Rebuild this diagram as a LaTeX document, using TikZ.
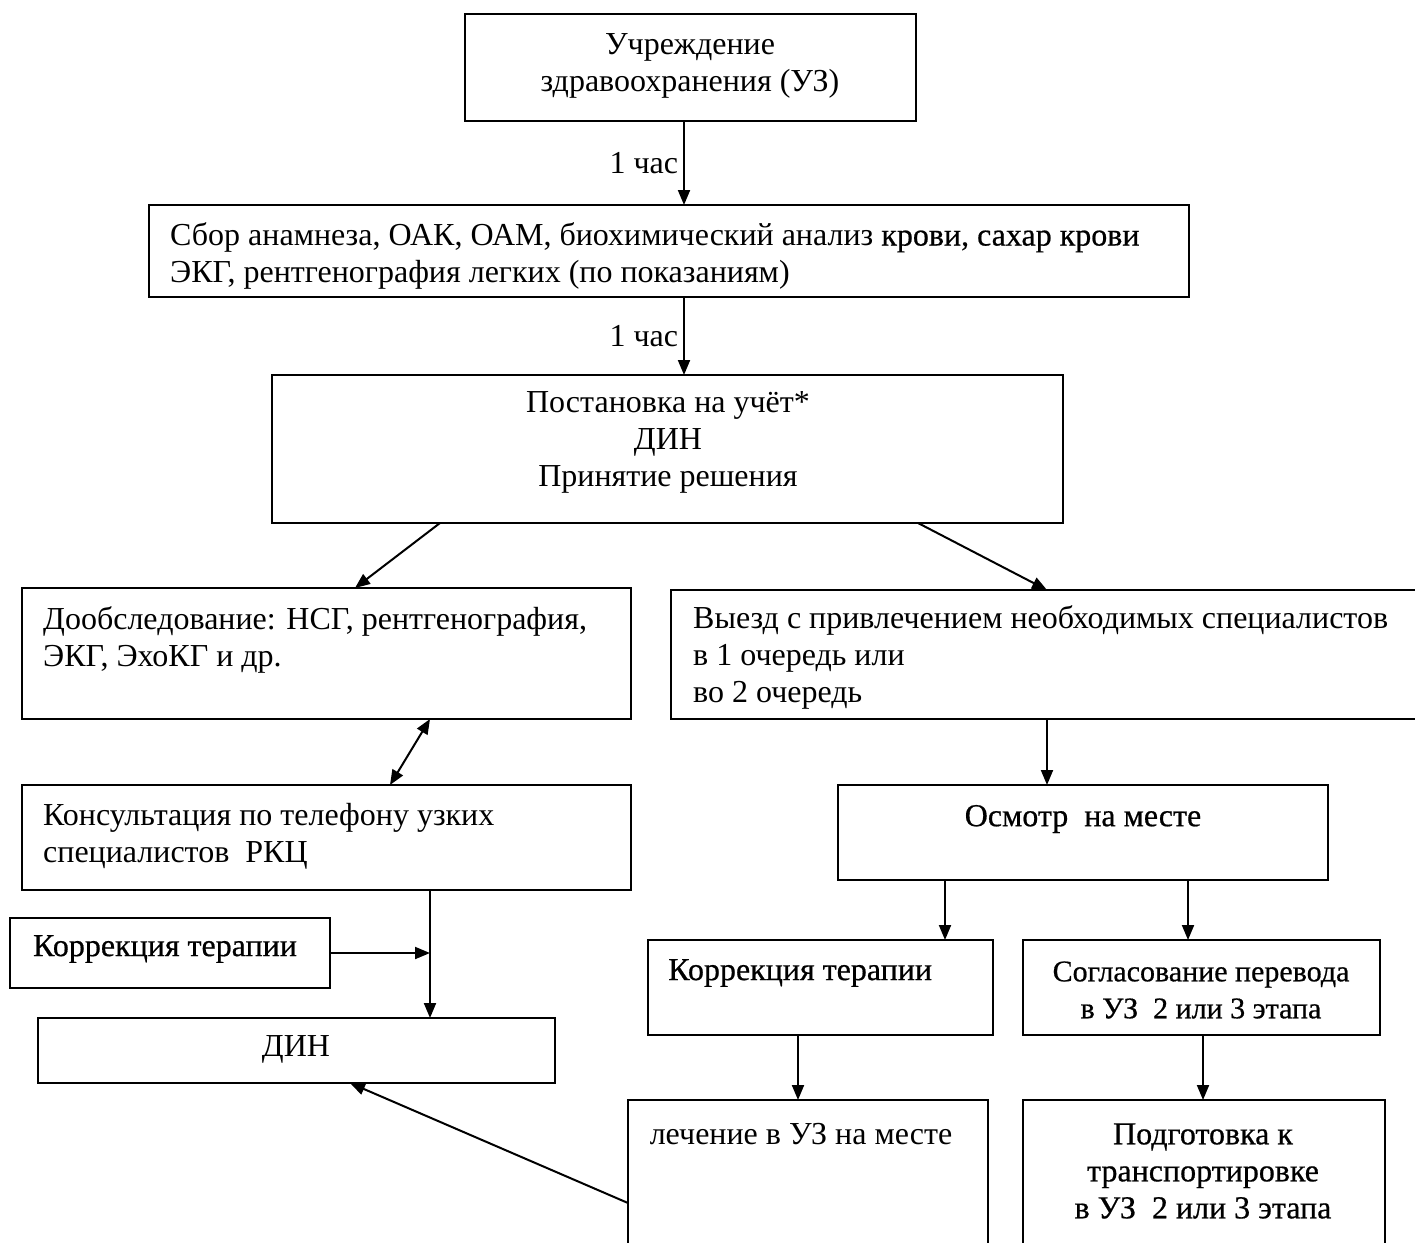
\documentclass[tikz,border=0pt]{standalone}
\usepackage{fontspec}
\setmainfont{Liberation Serif}
\newfontfamily\heavy{Liberation Serif}[FakeBold=0.6]
\usetikzlibrary{arrows.meta,calc}
\newcommand\bx[5]{\node[box,minimum width={(#4-#2)*1pt},minimum height={(#5-#3)*1pt}] (#1) at ({(#2+#4)/2},{(#3+#5)/2}) {};}
\begin{document}
\begin{tikzpicture}[x=1pt,y=-1pt,
 box/.style={draw,line width=2.2pt,inner sep=0pt,outer sep=0pt},
 txt/.style={font=\fontsize{32}{37}\selectfont,inner sep=0pt},
 htxt/.style={font=\fontsize{32}{37}\selectfont\heavy,inner sep=0pt},
 arr/.style={-{Triangle[length=15pt,width=12pt]},line width=2pt},
 darr/.style={{Triangle[length=15pt,width=12pt]}-{Triangle[length=15pt,width=12pt]},line width=2pt}]
\useasboundingbox (0,0) rectangle (1415,1242);
\clip (0,0) rectangle (1415,1242);
% boxes
\bx{b1}{465}{14}{916}{121}
\bx{b2}{149}{205}{1189}{297}
\bx{b3}{272}{375}{1063}{523}
\bx{b4}{22}{588}{631}{719}
\bx{b5}{671}{590}{1440}{719}
\bx{b6}{22}{785}{631}{890}
\bx{b7}{838}{785}{1328}{880}
\bx{b8}{10}{918}{330}{988}
\bx{b9}{38}{1018}{555}{1083}
\bx{b10}{648}{940}{993}{1035}
\bx{b11}{1023}{940}{1380}{1035}
\bx{b12}{628}{1100}{988}{1280}
\bx{b13}{1023}{1100}{1385}{1280}
% texts
\node[txt,align=center] (t1) at (690,66) {Учреждение\\здравоохранения (УЗ)};
\node[txt,anchor=west,align=left] (t2) at (170,256) {Сбор анамнеза, ОАК, ОАМ, биохимический анализ {\heavy крови, сахар крови}\\ЭКГ, рентгенография легких (по показаниям)};
\node[txt,align=center] (t3) at (668,442) {Постановка на учёт*\\ДИН\\Принятие решения};
\node[txt,anchor=west,align=left] (t4) at (43,640) {Дообследование: НСГ, рентгенография,\\ЭКГ, ЭхоКГ и др.};
\node[txt,anchor=west,align=left] (t5) at (693,657) {Выезд с привлечением необходимых специалистов\\в 1 очередь или\\во 2 очередь};
\node[txt,anchor=west,align=left] (t6) at (43,836) {Консультация по телефону узких\\специалистов\ \ РКЦ};
\node[htxt] (t7) at (1083,819) {Осмотр\ \ на месте};
\node[htxt] (t8) at (165,949) {Коррекция терапии};
\node[txt] (t9) at (296,1049) {ДИН};
\node[htxt,anchor=west] (t10) at (668,973) {Коррекция терапии};
\node[htxt,align=center,font=\fontsize{30}{37}\selectfont\heavy] (t11) at (1201,990) {Согласование перевода\\в УЗ\ \ 2 или 3 этапа};
\node[txt] (t12) at (801,1134) {лечение в УЗ на месте};
\node[htxt,align=center] (t13) at (1203,1171) {Подготовка к\\транспортировке\\в УЗ\ \ 2 или 3 этапа};
% connectors
\coordinate (cx) at (684,0);
\draw[arr] (b1.south -| cx) -- node[txt,left=5pt] (l1) {1 час} (b2.north -| cx);
\draw[arr] (b2.south -| cx) -- node[txt,left=5pt] (l2) {1 час} (b3.north -| cx);
\draw[arr] ([xshift=168pt]b3.south west) -- ([xshift=333pt]b4.north west);
\draw[arr] ([xshift=646pt]b3.south west) -- ([xshift=376pt]b5.north west);
\draw[darr] ([xshift=408pt]b4.south west) -- ([xshift=368pt]b6.north west);
\draw[arr] ([xshift=376pt]b5.south west) -- ([xshift=209pt]b7.north west);
\coordinate (vl) at ([xshift=408pt]b6.south west);
\draw[arr] (vl) -- (vl |- b9.north);
\draw[arr] (b8.east) -- (b8.east -| vl);
\draw[arr] ([xshift=107pt]b7.south west) -- ([xshift=297pt]b10.north west);
\draw[arr] ([xshift=350pt]b7.south west) -- ([xshift=165pt]b11.north west);
\draw[arr] ([xshift=150pt]b10.south west) -- ([xshift=170pt]b12.north west);
\draw[arr] ([xshift=180pt]b11.south west) -- ([xshift=180pt]b13.north west);
\draw[arr] ([yshift=-103pt]b12.north west) -- ([xshift=312pt]b9.south west);
\end{tikzpicture}
\end{document}
